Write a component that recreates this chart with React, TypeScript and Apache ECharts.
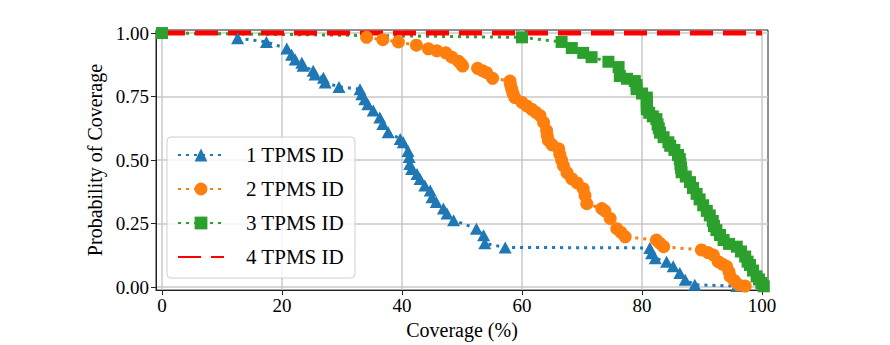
import React, { useEffect, useRef } from "react";
import * as echarts from "echarts";

const seriesNames = ["1 TPMS ID", "2 TPMS ID", "3 TPMS ID", "4 TPMS ID"];
const xTicks = [0, 20, 40, 60, 80, 100];
const yTicks = [0, 0.25, 0.5, 0.75, 1];

const blueX = [12.6, 17.4, 20.8, 21.6, 22.2, 23.3, 23.5, 25.2, 25.5, 26.9, 27.2, 29.5, 33.0, 33.3, 33.8, 34.3, 35.2, 36.3, 36.8, 37.7, 39.7, 40.2, 41.0, 41.2, 41.3, 41.6, 42.5, 43.0, 43.8, 44.7, 45.0, 45.7, 46.9, 47.5, 48.6, 52.4, 53.6, 53.8, 57.2, 81.3, 81.6, 82.2, 84.1, 85.2, 86.3, 87.2, 88.8, 95.8];
const blueY = [0.980, 0.965, 0.939, 0.915, 0.896, 0.883, 0.871, 0.852, 0.837, 0.824, 0.805, 0.788, 0.779, 0.759, 0.739, 0.720, 0.695, 0.668, 0.642, 0.609, 0.583, 0.570, 0.536, 0.512, 0.484, 0.465, 0.445, 0.425, 0.400, 0.380, 0.354, 0.335, 0.309, 0.290, 0.263, 0.230, 0.204, 0.172, 0.156, 0.154, 0.133, 0.113, 0.100, 0.082, 0.055, 0.029, 0.009, 0.004];

const orangeX = [34.1, 36.8, 39.4, 42.4, 44.4, 45.8, 47.3, 48.3, 49.4, 49.8, 50.1, 52.6, 53.4, 54.1, 55.1, 58.0, 58.1, 58.3, 58.5, 58.8, 60.0, 60.8, 61.6, 62.3, 63.0, 63.6, 64.1, 64.2, 64.4, 65.0, 66.1, 66.3, 66.6, 66.9, 67.5, 68.3, 69.2, 70.2, 70.5, 70.8, 73.3, 73.8, 74.7, 75.8, 76.5, 77.2, 82.4, 83.0, 83.6, 89.9, 91.0, 91.9, 92.7, 93.4, 94.1, 94.5, 94.7, 95.4, 96.1, 97.2];
const orangeY = [0.983, 0.974, 0.965, 0.952, 0.938, 0.930, 0.922, 0.905, 0.889, 0.880, 0.870, 0.861, 0.852, 0.844, 0.822, 0.811, 0.795, 0.779, 0.762, 0.746, 0.727, 0.713, 0.700, 0.688, 0.675, 0.648, 0.616, 0.597, 0.577, 0.560, 0.544, 0.523, 0.500, 0.478, 0.450, 0.426, 0.410, 0.387, 0.360, 0.328, 0.309, 0.300, 0.270, 0.230, 0.215, 0.198, 0.185, 0.172, 0.159, 0.146, 0.136, 0.126, 0.100, 0.090, 0.081, 0.060, 0.042, 0.025, 0.009, 0.004];

const greenX = [0, 60.0, 66.6, 68.3, 70.2, 71.6, 74.4, 76.1, 76.3, 77.5, 78.8, 79.1, 79.1, 80.0, 80.8, 80.8, 80.8, 80.8, 81.2, 81.8, 82.4, 82.6, 82.8, 83.0, 83.6, 84.4, 84.7, 85.4, 86.0, 86.3, 86.4, 86.5, 86.6, 87.3, 88.0, 88.5, 89.1, 89.6, 90.2, 90.8, 91.3, 91.8, 92.0, 92.4, 93.0, 93.6, 94.5, 95.8, 96.5, 97.2, 97.6, 98.0, 98.5, 99.1, 99.5, 99.9, 100.3];
const greenY = [1.0, 0.983, 0.965, 0.941, 0.922, 0.905, 0.887, 0.866, 0.831, 0.820, 0.811, 0.795, 0.779, 0.762, 0.746, 0.730, 0.714, 0.700, 0.686, 0.672, 0.661, 0.640, 0.625, 0.608, 0.590, 0.570, 0.556, 0.540, 0.520, 0.504, 0.485, 0.470, 0.452, 0.435, 0.413, 0.390, 0.367, 0.345, 0.322, 0.300, 0.282, 0.260, 0.240, 0.224, 0.205, 0.185, 0.170, 0.159, 0.140, 0.120, 0.100, 0.087, 0.065, 0.042, 0.030, 0.016, 0.003];

const redX = [0, 100];
const redY = [1, 1];

const FONT = "'Liberation Serif', 'DejaVu Serif', serif";

function pairs(xs: number[], ys: number[]) {
  return xs.map((x, i) => [x, ys[i]]);
}

export default function App() {
  const ref = useRef<HTMLDivElement>(null);
  useEffect(() => {
    if (!ref.current) return;
    const chart = echarts.init(ref.current, undefined, { renderer: "svg" });
    const dotted = [3, 5];
    const colors = ["#1f77b4", "#ff7f0e", "#2ca02c", "#ff0000"];
    chart.setOption({
      animation: false,
      grid: {
        left: 156,
        top: 30,
        width: 612,
        height: 262,
        show: true,
        borderColor: "#222",
        borderWidth: 1,
        backgroundColor: "transparent",
      },
      legend: {
        orient: "vertical",
        left: 167,
        top: 137,
        padding: [6, 11, 9, 10],
        itemWidth: 46,
        itemHeight: 16,
        itemGap: 10,
        backgroundColor: "rgba(255,255,255,0.8)",
        borderColor: "#d0d0d0",
        borderWidth: 1,
        borderRadius: 4,
        selectedMode: false,
        textStyle: {
          fontFamily: FONT,
          fontSize: 21,
          color: "#000",
          lineHeight: 24,
          padding: [0, 0, 0, 17],
        },
        data: [
          { name: seriesNames[0] },
          { name: seriesNames[1] },
          { name: seriesNames[2] },
          { name: seriesNames[3], itemStyle: { opacity: 0 } },
        ],
      },
      xAxis: {
        type: "value",
        min: -1,
        max: 101,
        name: "Coverage (%)",
        nameLocation: "middle",
        nameGap: 22,
        nameTextStyle: { fontFamily: FONT, fontSize: 20, color: "#000" },
        axisLine: { show: true, onZero: false, lineStyle: { color: "#222", width: 1 } },
        axisTick: { show: true, length: 5, customValues: xTicks, lineStyle: { color: "#222" } },
        axisLabel: {
          customValues: xTicks,
          margin: 6,
          fontFamily: FONT,
          fontSize: 19,
          color: "#000",
          formatter: (v: number) => String(v),
        },
        splitLine: { show: true, lineStyle: { color: "#c8c8c8", width: 1.5 } },
      },
      yAxis: {
        type: "value",
        min: -0.012,
        max: 1.012,
        name: "Probability of Coverage",
        nameLocation: "middle",
        nameGap: 48,
        nameTextStyle: { fontFamily: FONT, fontSize: 20, color: "#000" },
        axisLine: { show: true, onZero: false, lineStyle: { color: "#222", width: 1 } },
        axisTick: { show: true, length: 5, customValues: yTicks, lineStyle: { color: "#222" } },
        axisLabel: {
          customValues: yTicks,
          margin: 7,
          fontFamily: FONT,
          fontSize: 19,
          color: "#000",
          formatter: (v: number) => v.toFixed(2),
        },
        splitLine: { show: true, lineStyle: { color: "#c8c8c8", width: 1.5 } },
      },
      series: [
        {
          name: seriesNames[0],
          type: "line",
          data: pairs(blueX, blueY),
          symbol: "triangle",
          symbolSize: [13, 12],
          showAllSymbol: true,
          clip: false,
          itemStyle: { color: colors[0] },
          lineStyle: { color: colors[0], width: 3, type: dotted },
        },
        {
          name: seriesNames[1],
          type: "line",
          data: pairs(orangeX, orangeY),
          symbol: "circle",
          symbolSize: 13,
          showAllSymbol: true,
          clip: false,
          itemStyle: { color: colors[1] },
          lineStyle: { color: colors[1], width: 3, type: dotted },
        },
        {
          name: seriesNames[2],
          type: "line",
          data: pairs(greenX, greenY),
          symbol: "rect",
          symbolSize: 12,
          showAllSymbol: true,
          clip: false,
          itemStyle: { color: colors[2] },
          lineStyle: { color: colors[2], width: 3, type: dotted },
        },
        {
          name: seriesNames[3],
          type: "line",
          data: pairs(redX, redY),
          symbol: "none",
          clip: false,
          itemStyle: { color: colors[3] },
          lineStyle: { color: colors[3], width: 5, type: [23, 10] },
        },
      ],
    });
    return () => chart.dispose();
  }, []);
  return (
    <div
      ref={ref}
      style={{ position: "fixed", left: 0, top: 0, width: 890, height: 345, background: "#fff" }}
    />
  );
}
